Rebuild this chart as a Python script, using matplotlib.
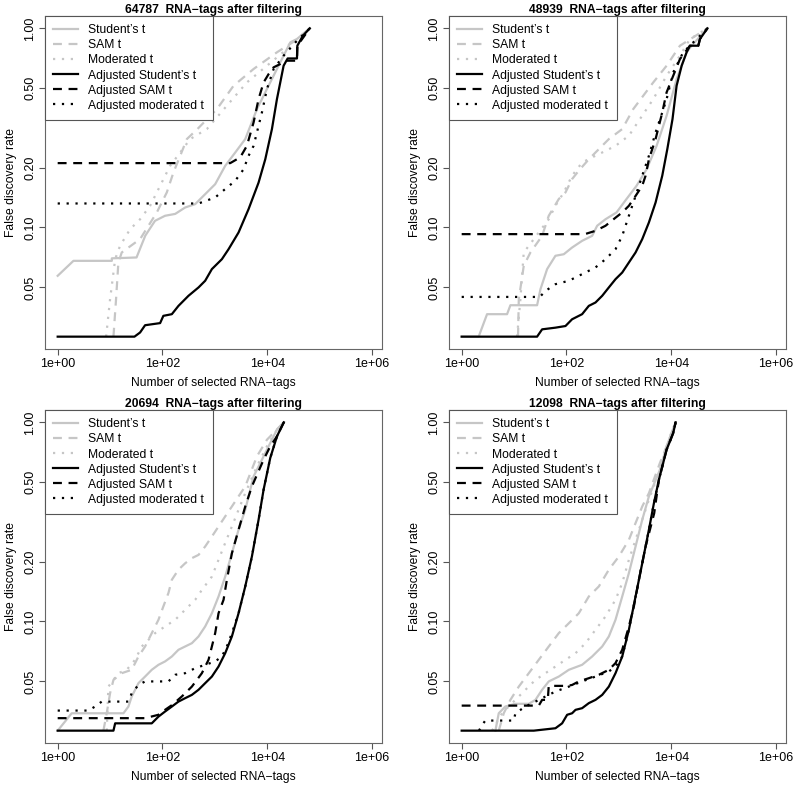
import matplotlib
matplotlib.use("Agg")
import matplotlib.pyplot as plt
from matplotlib.ticker import NullLocator

plt.rcParams['font.family'] = ['Liberation Sans', 'DejaVu Sans']

series_labels = ["Student\u2019s t", "SAM t", "Moderated t",
                 "Adjusted Student\u2019s t", "Adjusted SAM t", "Adjusted moderated t"]
tags_after_filtering = [64787, 48939, 20694, 12098]
x_ticks = [1, 1e2, 1e4, 1e6]
x_tick_labels = ["1e+00", "1e+02", "1e+04", "1e+06"]
y_ticks = [0.05, 0.10, 0.20, 0.50, 1.00]
y_tick_labels = ["0.05", "0.10", "0.20", "0.50", "1.00"]
fdr_floor = 0.0283

# (number of selected tags, false discovery rate)
# panel 1: 64787 tags
p1_student = [(1, 0.0572), (2, 0.068), (10.8, 0.068), (10.8, 0.070), (32, 0.0707), (47, 0.091),
              (72, 0.108), (112, 0.1145), (175, 0.117), (271, 0.126), (421, 0.131), (653, 0.147),
              (1014, 0.165), (1575, 0.204), (2448, 0.238), (3802, 0.278), (6353, 0.393),
              (9863, 0.496), (17720, 0.675), (27490, 0.85), (36890, 0.884), (64787, 1.0)]
p1_sam = [(11.6, 0.0283), (13.0, 0.0436), (14.4, 0.0667), (16.7, 0.0749), (22.4, 0.0793),
          (37.4, 0.0874), (54, 0.102), (78, 0.119), (121, 0.150), (162, 0.189), (218, 0.229),
          (292, 0.278), (453, 0.31), (1092, 0.393), (2275, 0.515), (5483, 0.625), (15300, 0.758),
          (31840, 0.857), (64787, 1.0)]
p1_mod = [(8.4, 0.0283), (10, 0.0436), (12.5, 0.0693), (15.5, 0.0809), (24.1, 0.098), (37.4, 0.110),
          (58.1, 0.1285), (90.2, 0.162), (140, 0.204), (218, 0.238), (338, 0.278), (703, 0.312),
          (1696, 0.409), (4083, 0.535), (9863, 0.649), (23770, 0.787), (36890, 0.867), (64787, 1.0)]
p1_adj_student = [(1, 0.0283), (29.2, 0.0283), (37.4, 0.0297), (46.6, 0.0323), (90.2, 0.0331),
                  (104, 0.036), (151, 0.0367), (202, 0.0404), (314, 0.0454), (488, 0.050),
                  (653, 0.054), (877, 0.0618), (1361, 0.0693), (1825, 0.0778), (2833, 0.0944),
                  (4395, 0.1236), (6823, 0.168), (9162, 0.220), (12280, 0.312), (15300, 0.441),
                  (20510, 0.649), (24500, 0.706), (36890, 0.706), (37500, 0.818), (48000, 0.919),
                  (64787, 1.0)]
p1_adj_sam = [(1, 0.2105), (1964, 0.2105), (3048, 0.225), (4083, 0.257), (5483, 0.337), (6823, 0.441),
              (8511, 0.535), (10600, 0.589), (13210, 0.637), (17720, 0.662), (22080, 0.688),
              (36890, 0.688), (37500, 0.818), (64787, 1.0)]
p1_adj_mod = [(1, 0.132), (488, 0.132), (1014, 0.1415), (1575, 0.156), (2448, 0.1716), (3532, 0.196),
              (4395, 0.229), (5483, 0.257), (6823, 0.324), (7907, 0.378), (9863, 0.496),
              (13210, 0.625), (20510, 0.729), (36890, 0.867), (64787, 1.0)]

# panel 2: 48939 tags
p2_student = [(1, 0.0283), (2.11, 0.0283), (3.05, 0.0367), (7.35, 0.0367), (8.51, 0.0407),
              (27.5, 0.0407), (31.9, 0.049), (42.7, 0.0618), (61.6, 0.0721), (88.9, 0.0734),
              (128, 0.0793), (199, 0.0857), (309, 0.0908), (385, 0.102), (556, 0.110), (902, 0.119),
              (1400, 0.139), (2176, 0.162), (3380, 0.196), (5248, 0.257), (8150, 0.364),
              (12650, 0.556), (19630, 0.758), (24500, 0.818), (48939, 1.0)]
p2_sam = [(11.9, 0.0283), (12.3, 0.0436), (15.3, 0.0642), (20.5, 0.0749), (34.3, 0.0908),
          (45.9, 0.1145), (71.4, 0.139), (95.7, 0.150), (128, 0.175), (172, 0.193), (267, 0.220),
          (358, 0.238), (644, 0.278), (1159, 0.312), (1879, 0.393), (4529, 0.535), (8150, 0.649),
          (14650, 0.818), (48939, 1.0)]
p2_mod = [(11.4, 0.0283), (13.2, 0.0436), (15.3, 0.0749), (19.1, 0.0809), (29.6, 0.0944),
          (45.9, 0.110), (61.6, 0.1285), (88.9, 0.150), (128, 0.182), (199, 0.212), (309, 0.225),
          (481, 0.238), (863, 0.257), (1553, 0.289), (2518, 0.350), (4529, 0.441), (8150, 0.578),
          (14650, 0.729), (22740, 0.884), (48939, 1.0)]
p2_adj_student = [(1, 0.0283), (27.5, 0.0283), (34.3, 0.0308), (61.6, 0.0314), (95.7, 0.032),
                  (128, 0.0346), (199, 0.0367), (267, 0.0404), (358, 0.042), (481, 0.0454),
                  (644, 0.050), (863, 0.055), (1159, 0.0594), (1553, 0.0667), (2083, 0.0749),
                  (2793, 0.0874), (3745, 0.106), (5022, 0.1335), (6735, 0.182), (8420, 0.248),
                  (10560, 0.350), (12650, 0.515), (15800, 0.649), (19630, 0.758), (22740, 0.818),
                  (32800, 0.818), (35300, 0.884), (48939, 1.0)]
p2_adj_sam = [(1, 0.0926), (224, 0.0926), (358, 0.0962), (556, 0.102), (863, 0.112), (1159, 0.119),
              (1553, 0.1285), (2083, 0.144), (2793, 0.162), (3236, 0.182), (3745, 0.220),
              (5022, 0.278), (6735, 0.378), (8150, 0.477), (10900, 0.578), (14650, 0.701),
              (22740, 0.818), (32800, 0.818), (35300, 0.884), (48939, 1.0)]
p2_adj_mod = [(1, 0.0448), (31, 0.0448), (39.7, 0.048), (61.6, 0.0519), (111, 0.054), (199, 0.0583),
              (358, 0.063), (556, 0.0693), (863, 0.0778), (1159, 0.0908), (1553, 0.1145),
              (2083, 0.144), (2793, 0.182), (3745, 0.229), (5022, 0.300), (6735, 0.378),
              (8150, 0.441), (10900, 0.601), (16900, 0.758), (26300, 0.850), (48939, 1.0)]

# panel 3: 20694 tags
p3_student = [(1, 0.0283), (1.85, 0.0346), (18.0, 0.0346), (22.4, 0.0374), (25.9, 0.042),
              (34.8, 0.049), (46.6, 0.0529), (62.5, 0.0572), (83.9, 0.0606), (112, 0.063),
              (151, 0.0667), (202, 0.0721), (271, 0.0749), (364, 0.0778), (488, 0.0841),
              (653, 0.0944), (877, 0.110), (1175, 0.1335), (1575, 0.168), (2113, 0.220),
              (2833, 0.289), (3802, 0.364), (5483, 0.535), (9863, 0.729), (15300, 0.919),
              (20694, 1.0)]
p3_sam = [(7.46, 0.0283), (8.63, 0.0346), (10, 0.0436), (11.6, 0.0509), (16.7, 0.055),
          (25.9, 0.0572), (34.8, 0.0667), (46.6, 0.0749), (62.5, 0.0874), (83.9, 0.102),
          (104, 0.119), (130, 0.139), (151, 0.162), (202, 0.182), (271, 0.196), (364, 0.208),
          (488, 0.216), (653, 0.238), (877, 0.267), (1175, 0.300), (1575, 0.337), (2113, 0.378),
          (2833, 0.425), (3802, 0.477), (6353, 0.675), (9863, 0.818), (20694, 1.0)]
p3_mod = [(8.63, 0.0283), (9.29, 0.0471), (14.4, 0.055), (20.8, 0.0572), (30, 0.0642),
          (40.3, 0.0749), (54, 0.0809), (72.4, 0.0874), (112, 0.0944), (175, 0.102), (271, 0.1145),
          (421, 0.1285), (565, 0.144), (877, 0.168), (1175, 0.204), (1575, 0.248), (2113, 0.300),
          (2833, 0.364), (3802, 0.441), (6353, 0.601), (9863, 0.758), (15300, 0.919), (20694, 1.0)]
p3_adj_student = [(1, 0.0283), (11.6, 0.0283), (12.5, 0.0308), (62.5, 0.0308), (83.9, 0.0333),
                  (112, 0.0353), (151, 0.0374), (202, 0.0396), (271, 0.0412), (364, 0.0428),
                  (488, 0.0454), (653, 0.049), (877, 0.0529), (1175, 0.0594), (1575, 0.0693),
                  (2113, 0.0841), (2833, 0.110), (3802, 0.150), (5093, 0.212), (6823, 0.324),
                  (8511, 0.459), (11400, 0.662), (15300, 0.850), (20694, 1.0)]
p3_adj_sam = [(1, 0.0327), (46.6, 0.0327), (83.9, 0.034), (112, 0.036), (151, 0.038), (234, 0.042),
              (364, 0.0471), (565, 0.055), (757, 0.0642), (877, 0.0749), (1014, 0.0874),
              (1175, 0.110), (1465, 0.1285), (1696, 0.162), (2113, 0.220), (2833, 0.289),
              (3802, 0.378), (5093, 0.477), (8511, 0.649), (11400, 0.758), (15300, 0.850),
              (20694, 1.0)]
p3_adj_mod = [(1, 0.0357), (3.85, 0.0357), (5.17, 0.0374), (6.93, 0.0396), (22.4, 0.0396),
              (25.9, 0.0436), (34.8, 0.048), (46.6, 0.050), (130, 0.050), (175, 0.054), (271, 0.055),
              (421, 0.0583), (653, 0.0606), (1014, 0.063), (1361, 0.0667), (1696, 0.0749),
              (2113, 0.0874), (2833, 0.110), (3802, 0.150), (5093, 0.212), (6823, 0.324),
              (8511, 0.459), (11400, 0.662), (15300, 0.850), (20694, 1.0)]

# panel 4: 12098 tags
p4_student = [(4.4, 0.0283), (5.1, 0.0346), (6.8, 0.0374), (10.6, 0.0386), (19.1, 0.0386),
              (25.6, 0.0404), (34.3, 0.0454), (45.9, 0.050), (71.4, 0.0529), (111, 0.0572),
              (199, 0.0606), (309, 0.0667), (481, 0.0749), (644, 0.0841), (863, 0.102),
              (1159, 0.1335), (1553, 0.175), (2083, 0.238), (2793, 0.324), (3745, 0.425),
              (6070, 0.578), (8150, 0.758), (12098, 1.0)]
p4_sam = [(5.1, 0.0283), (6.35, 0.0346), (8.51, 0.0404), (12.3, 0.0471), (19.1, 0.055),
          (29.6, 0.0642), (45.9, 0.0749), (71.4, 0.0874), (111, 0.098), (172, 0.110), (267, 0.1335),
          (415, 0.150), (644, 0.182), (1000, 0.212), (1553, 0.257), (2083, 0.312), (2793, 0.378),
          (3745, 0.441), (6070, 0.625), (8150, 0.758), (12098, 1.0)]
p4_mod = [(3.8, 0.0283), (5.9, 0.0346), (10.6, 0.0404), (16.5, 0.0454), (25.6, 0.0509),
          (39.7, 0.055), (61.6, 0.0594), (95.7, 0.0642), (149, 0.0693), (231, 0.0778), (358, 0.0908),
          (556, 0.106), (863, 0.1285), (1159, 0.156), (1553, 0.204), (2083, 0.257), (2793, 0.324),
          (3745, 0.409), (6070, 0.578), (9440, 0.850), (12098, 1.0)]
p4_adj_student = [(1, 0.0283), (23.8, 0.0283), (61.6, 0.0291), (82.6, 0.0308), (103, 0.034),
                  (128, 0.0346), (149, 0.036), (199, 0.0367), (267, 0.0389), (358, 0.0404),
                  (481, 0.0428), (644, 0.0471), (863, 0.055), (1159, 0.0667), (1553, 0.0908),
                  (2083, 0.1335), (2793, 0.196), (3745, 0.289), (4670, 0.393), (5810, 0.515),
                  (8150, 0.729), (10900, 0.884), (12098, 1.0)]
p4_adj_sam = [(1, 0.0378), (29.6, 0.0378), (34.3, 0.0404), (44, 0.0404), (45.9, 0.0475),
              (103, 0.0475), (128, 0.048), (172, 0.050), (267, 0.0519), (415, 0.054), (644, 0.0572),
              (863, 0.0618), (1159, 0.0721), (1553, 0.0944), (1935, 0.119), (2410, 0.162),
              (3236, 0.238), (4730, 0.350), (5810, 0.515), (8150, 0.729), (10900, 0.884),
              (12098, 1.0)]
p4_adj_mod = [(2.14, 0.0283), (2.45, 0.0302), (2.83, 0.0318), (9.86, 0.0318), (10.6, 0.0346),
              (16.5, 0.0374), (25.6, 0.0396), (39.7, 0.042), (61.6, 0.0445), (111, 0.0471),
              (199, 0.050), (358, 0.0529), (644, 0.0561), (863, 0.0594), (1159, 0.0667),
              (1553, 0.0908), (2083, 0.1335), (2793, 0.196), (3745, 0.289), (4670, 0.393),
              (5810, 0.515), (8150, 0.729), (10900, 0.884), (12098, 1.0)]

panels = [
    [p1_student, p1_sam, p1_mod, p1_adj_student, p1_adj_sam, p1_adj_mod],
    [p2_student, p2_sam, p2_mod, p2_adj_student, p2_adj_sam, p2_adj_mod],
    [p3_student, p3_sam, p3_mod, p3_adj_student, p3_adj_sam, p3_adj_mod],
    [p4_student, p4_sam, p4_mod, p4_adj_student, p4_adj_sam, p4_adj_mod],
]

grey = '#c6c6c6'
dashed = (0, (4, 3))
dotted = (0, (1, 3))
styles = [(grey, '-'), (grey, dashed), (grey, dotted),
          ('black', '-'), ('black', dashed), ('black', dotted)]

W, H = 800, 788
fig = plt.figure(figsize=(W / 100, H / 100), dpi=100)
# axes boxes in pixels: left, top, right, bottom
boxes = [(45, 16, 382, 349), (449, 16, 786, 349), (45, 410, 382, 743), (449, 410, 786, 743)]
fs = 8.7

for i, box in enumerate(boxes):
    l, t, r, b = box
    ax = fig.add_axes([l / W, 1 - b / H, (r - l) / W, (b - t) / H])
    for curve, (color, ls), label in zip(panels[i], styles, series_labels):
        xs = [p[0] for p in curve]
        ys = [p[1] for p in curve]
        ax.plot(xs, ys, color=color, linestyle=ls, linewidth=1.6, label=label)
    ax.set_xscale('log')
    ax.set_yscale('log')
    ax.set_xlim(10 ** -0.242, 10 ** 6.19)
    ax.set_ylim(fdr_floor * 10 ** -0.062, 10 ** 0.062)
    ax.set_xticks(x_ticks)
    ax.set_xticklabels(x_tick_labels)
    ax.set_yticks(y_ticks)
    ax.set_yticklabels(y_tick_labels, rotation=90, va='center')
    ax.xaxis.set_minor_locator(NullLocator())
    ax.yaxis.set_minor_locator(NullLocator())
    ax.tick_params(axis='both', labelsize=9, length=4.3, width=0.8, color='#555555', pad=2)
    for s in ax.spines.values():
        s.set_color('#666666')
        s.set_linewidth(0.8)
    ax.set_xlabel("Number of selected RNA\u2212tags", fontsize=fs, labelpad=5)
    ax.set_ylabel("False discovery rate", fontsize=fs, labelpad=5)
    ax.set_title("%d  RNA\u2212tags after filtering" % tags_after_filtering[i],
                 fontsize=fs, fontweight='bold', pad=0.5)
    leg = ax.legend(loc='upper left', borderaxespad=0, fancybox=False, framealpha=1,
                    edgecolor='#555555', fontsize=fs, handlelength=2.0, handletextpad=0.9,
                    labelspacing=0.25, borderpad=0.7)
    leg.get_frame().set_linewidth(0.8)

fig.savefig('out.png', dpi=100)
